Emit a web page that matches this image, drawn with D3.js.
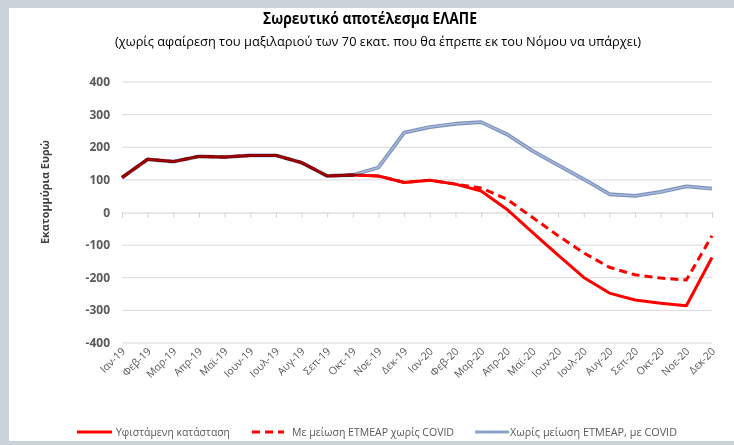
<!DOCTYPE html>
<html><head><meta charset="utf-8">
<script src="https://cdn.jsdelivr.net/npm/d3@7"></script>
<style>
html,body{margin:0;padding:0;background:#fff;}
svg{display:block;font-family:"Liberation Sans Narrow","Arial Narrow","Open Sans",sans-serif;}
</style></head><body>
<svg id="c" width="734" height="445"></svg>
<script>
const categories = ["Ιαν-19","Φεβ-19","Μαρ-19","Απρ-19","Μαϊ-19","Ιουν-19","Ιουλ-19","Αυγ-19","Σεπ-19","Οκτ-19","Νοε-19","Δεκ-19",
  "Ιαν-20","Φεβ-20","Μαρ-20","Απρ-20","Μαϊ-20","Ιουν-20","Ιουλ-20","Αυγ-20","Σεπ-20","Οκτ-20","Νοε-20","Δεκ-20"];
const current = [107,163,156,172,170,175,175,153,112,115,112,92,99,87,66,10,-61,-131,-199,-247,-268,-278,-286,-138];
const noCovid = [107,163,156,172,170,175,175,153,112,115,112,92,99,87,75,41,-15,-71,-124,-168,-191,-201,-207,-71];
const withCovid = [107,163,156,172,170,175,175,153,112,115,138,245,262,272,277,240,189,145,102,56,51,63,80,73];
const yTicks = [400,300,200,100,0,-100,-200,-300,-400];
const seriesNames = ["Υφιστάμενη κατάσταση","Με μείωση  ETMEAP χωρίς COVID","Χωρίς μείωση  ETMEAP, με COVID"];
const title = "Σωρευτικό αποτέλεσμα ΕΛΑΠΕ";
const subtitle = "(χωρίς αφαίρεση του μαξιλαριού των 70 εκατ. που θα έπρεπε εκ του Νόμου να υπάρχει)";
const yTitle = "Εκατομμύρια Ευρώ";

const svg = d3.select("#c");
svg.append("rect").attr("x",0).attr("y",0).attr("width",734).attr("height",445).attr("fill","#c9d3d9");
svg.append("rect").attr("x",9).attr("y",8).attr("width",725).attr("height",433).attr("fill","#ffffff");

const x = d3.scalePoint().domain(categories).range([122,712]).padding(0);
const y = d3.scaleLinear().domain([-400,400]).range([343,82]);

svg.append("g").selectAll("line").data(yTicks.filter(d=>d!==0)).join("line")
  .attr("x1",122).attr("x2",712).attr("y1",d=>y(d)).attr("y2",d=>y(d))
  .attr("stroke","#d9d9d9").attr("stroke-width",1);

svg.append("g").selectAll("text").data(yTicks).join("text")
  .attr("x",110).attr("y",d=>y(d)+4).attr("text-anchor","end")
  .attr("font-size",12).attr("font-weight","bold").attr("fill","#595959")
  .text(d=>d);

const xAxis = d3.axisBottom(x).tickSize(5).tickFormat("");
const gx = svg.append("g").attr("transform",`translate(0,${y(0)})`).call(xAxis);
gx.select(".domain").attr("stroke","#d0d0d0");
gx.selectAll(".tick line").attr("stroke","#d0d0d0");

svg.append("g").selectAll("text").data(categories).join("text")
  .attr("transform",d=>`translate(${x(d)+4},${352}) rotate(-45)`)
  .attr("text-anchor","end").attr("font-size",10.5).attr("fill","#595959")
  .text(d=>d);

const line = d3.line().x((d,i)=>x(categories[i])).y(d=>y(d));

svg.append("path").datum(withCovid).attr("d",line).attr("fill","none")
  .attr("stroke","#7c93bd").attr("stroke-width",3.8).attr("stroke-linejoin","round");
svg.append("path").datum(withCovid).attr("d",line).attr("fill","none")
  .attr("stroke","#a9bad8").attr("stroke-width",1.4).attr("stroke-linejoin","round");

svg.append("path").datum(noCovid).attr("d",line).attr("fill","none")
  .attr("stroke","#ff0000").attr("stroke-width",3).attr("stroke-dasharray","8,5")
  .style("mix-blend-mode","multiply");
svg.append("path").datum(current).attr("d",line).attr("fill","none")
  .attr("stroke","#ff0000").attr("stroke-width",3).attr("stroke-linejoin","round")
  .style("mix-blend-mode","multiply");

svg.append("text").attr("x",370).attr("y",24).attr("text-anchor","middle")
  .attr("font-size",16).attr("font-weight","bold").attr("fill","#000")
  .attr("textLength",214).attr("lengthAdjust","spacingAndGlyphs").text(title);
svg.append("text").attr("x",378).attr("y",46).attr("text-anchor","middle")
  .attr("font-size",12.5).attr("fill","#000")
  .attr("textLength",526).attr("lengthAdjust","spacingAndGlyphs").text(subtitle);

svg.append("text").attr("transform","translate(49,192) rotate(-90)").attr("text-anchor","middle")
  .attr("font-size",10.5).attr("font-weight","bold").attr("fill","#404040")
  .attr("textLength",104).attr("lengthAdjust","spacingAndGlyphs").text(yTitle);

const leg = [
  {x1:77,x2:112,tx:116,tl:114,dash:null,color:"#ff0000"},
  {x1:252,x2:284,tx:292,tl:162,dash:"8,5",color:"#ff0000"},
  {x1:475,x2:509,tx:510,tl:167,dash:null,color:"#8ea3c8"}
];
const ly = 432;
leg.forEach((l,i)=>{
  const ln = svg.append("line").attr("x1",l.x1).attr("x2",l.x2).attr("y1",ly).attr("y2",ly)
    .attr("stroke",l.color).attr("stroke-width",3);
  if(l.dash) ln.attr("stroke-dasharray",l.dash);
  svg.append("text").attr("x",l.tx).attr("y",ly+4).attr("font-size",11.5).attr("fill","#595959")
    .attr("textLength",l.tl).attr("lengthAdjust","spacingAndGlyphs").text(seriesNames[i]);
});
</script>
</body></html>
